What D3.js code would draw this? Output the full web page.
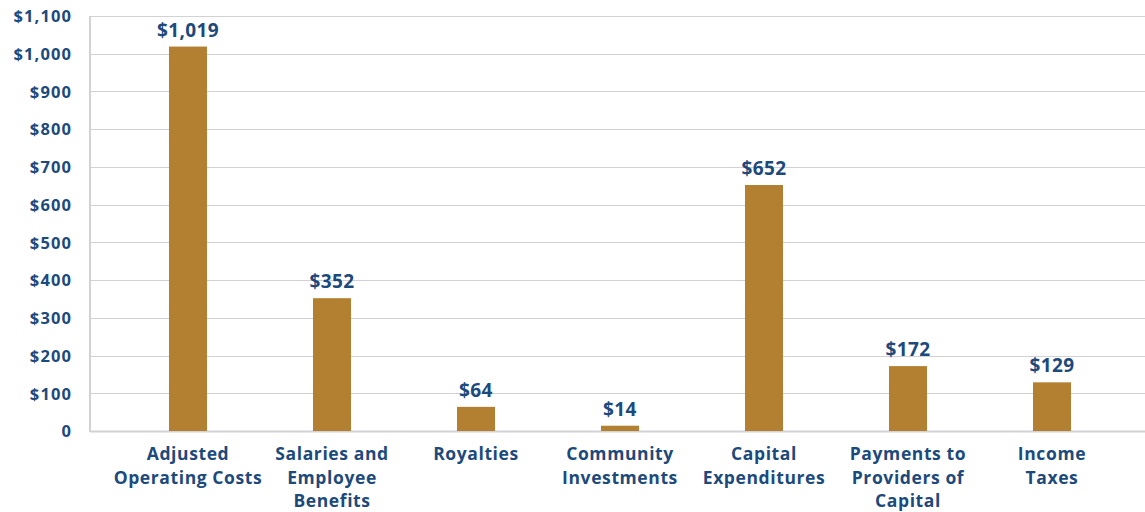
<!DOCTYPE html>
<html>
<head>
<meta charset="utf-8">
<script src="https://cdn.jsdelivr.net/npm/d3@7/dist/d3.min.js"></script>
<style>
  html, body { margin: 0; padding: 0; background: #fff; }
  svg { display: block; }
  text { font-family: "Open Sans", "DejaVu Sans", sans-serif; font-weight: 700; fill: #1c4a7c; }
</style>
</head>
<body>
<svg id="chart" width="1145" height="512"></svg>
<script>
// Spending categories (multi-line labels) and values in $ millions
const categories = [
  ["Adjusted", "Operating Costs"],
  ["Salaries and", "Employee", "Benefits"],
  ["Royalties"],
  ["Community", "Investments"],
  ["Capital", "Expenditures"],
  ["Payments to", "Providers of", "Capital"],
  ["Income", "Taxes"]
];
const values = [1019, 352, 64, 14, 652, 172, 129];
const yTicks = [0, 100, 200, 300, 400, 500, 600, 700, 800, 900, 1000, 1100];

const svg = d3.select("#chart");
const plot = { left: 90, right: 1145, top: 16, bottom: 431 };

const keys = categories.map((c, i) => i);
const x = d3.scaleBand().domain(keys).range([116, 1124]).paddingInner(0.736).paddingOuter(0.368);
const y = d3.scaleLinear().domain([0, 1100]).range([plot.bottom, plot.top]);

const fmt = v => v === 0 ? "0" : "$" + d3.format(",")(v);

// horizontal gridlines
svg.append("g")
  .selectAll("line")
  .data(yTicks.filter(t => t > 0))
  .join("line")
  .attr("x1", plot.left).attr("x2", plot.right)
  .attr("y1", d => Math.round(y(d)) + 0.5).attr("y2", d => Math.round(y(d)) + 0.5)
  .attr("stroke", "#d2d2d6").attr("stroke-width", 1);

// y axis with tick labels
const yAxis = d3.axisLeft(y).tickValues(yTicks).tickFormat(fmt).tickSize(0).tickPadding(18);
const ya = svg.append("g").attr("transform", `translate(${plot.left},0)`).call(yAxis);
ya.select(".domain").remove();
ya.selectAll("text").attr("font-size", 16.5).attr("dy", "0.35em")
  .attr("letter-spacing", "1.1px")
  .style("font-family", "'Open Sans', sans-serif").style("font-weight", 700).attr("fill", "#1c4a7c");

// axis lines
svg.append("line")
  .attr("x1", plot.left).attr("x2", plot.left)
  .attr("y1", plot.top).attr("y2", plot.bottom + 1)
  .attr("stroke", "#d2d2d6").attr("stroke-width", 2);
svg.append("line")
  .attr("x1", plot.left).attr("x2", plot.right)
  .attr("y1", plot.bottom + 0.5).attr("y2", plot.bottom + 0.5)
  .attr("stroke", "#d2d2d6").attr("stroke-width", 2);

// bars
svg.append("g")
  .selectAll("rect")
  .data(values)
  .join("rect")
  .attr("x", (d, i) => x(i))
  .attr("width", x.bandwidth())
  .attr("y", d => y(d))
  .attr("height", d => y(0) - y(d))
  .attr("fill", "#b37f30");

// value labels
svg.append("g")
  .selectAll("text")
  .data(values)
  .join("text")
  .attr("x", (d, i) => x(i) + x.bandwidth() / 2)
  .attr("y", d => y(d) - 10)
  .attr("text-anchor", "middle")
  .attr("font-size", 19)
  .attr("letter-spacing", "0.4px")
  .text(d => fmt(d));

// category labels
const xl = svg.append("g")
  .selectAll("text")
  .data(categories)
  .join("text")
  .attr("x", (d, i) => x(i) + x.bandwidth() / 2)
  .attr("y", 460)
  .attr("text-anchor", "middle")
  .attr("font-size", 17.5)
  .attr("letter-spacing", "0.6px");
xl.selectAll("tspan")
  .data(d => d)
  .join("tspan")
  .attr("x", function () { return this.parentNode.getAttribute("x"); })
  .attr("dy", (d, j) => j === 0 ? 0 : 23.5)
  .text(d => d);
</script>
</body>
</html>
